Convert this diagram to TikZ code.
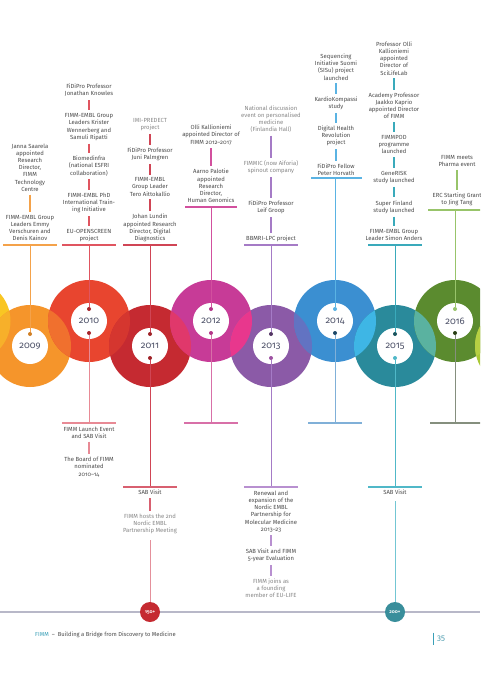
\documentclass[tikz,border=0pt]{standalone}
\usepackage{fontspec}
\setmainfont[Numbers=OldStyle]{Fira Sans}
\usetikzlibrary{calc}
\definecolor{c08}{HTML}{F9C623}
\definecolor{c09}{HTML}{F5952B}
\definecolor{c10}{HTML}{E8452F}
\definecolor{c11}{HTML}{C52A31}
\definecolor{c12}{HTML}{C73B97}
\definecolor{c13}{HTML}{8B5AA7}
\definecolor{c14}{HTML}{3B8FD1}
\definecolor{c15}{HTML}{2A8A9B}
\definecolor{c16}{HTML}{5B8B2F}
\definecolor{c17}{HTML}{A9C834}
\definecolor{x0809}{HTML}{F7B02A}
\definecolor{x0910}{HTML}{F0702E}
\definecolor{x1011}{HTML}{D5362F}
\definecolor{x1112}{HTML}{E0386B}
\definecolor{x1213}{HTML}{E8378D}
\definecolor{x1314}{HTML}{6273C2}
\definecolor{x1415}{HTML}{3EB6E5}
\definecolor{x1516}{HTML}{5AB2A0}
\definecolor{x1617}{HTML}{B6D043}
\definecolor{l09}{HTML}{F4A24A}
\definecolor{l10}{HTML}{E05560}
\definecolor{l10b}{HTML}{E88A95}
\definecolor{l11}{HTML}{D04555}
\definecolor{l11b}{HTML}{D86070}
\definecolor{l12}{HTML}{D2509E}
\definecolor{l12b}{HTML}{D870A8}
\definecolor{l13}{HTML}{A57BC6}
\definecolor{l13b}{HTML}{B890D0}
\definecolor{l14}{HTML}{5AB3E3}
\definecolor{l14b}{HTML}{80B0D8}
\definecolor{l15}{HTML}{3AAABB}
\definecolor{l15b}{HTML}{50B8C8}
\definecolor{l16}{HTML}{98C46A}
\definecolor{l16b}{HTML}{858F7E}
\definecolor{tgray}{HTML}{4C4C4C}
\definecolor{lgray}{HTML}{888888}
\definecolor{ygray}{HTML}{50546A}
\definecolor{fteal}{HTML}{3AA0B8}
\definecolor{tline}{HTML}{B8B8C8}
\tikzset{
  txt/.style={font=\fontsize{5.9}{7.2}\selectfont, text=tgray, align=center, inner sep=0pt},
  ltxt/.style={txt, text=lgray},
  seg/.style={line width=1.3pt, shorten <=3pt, shorten >=3pt},
  vline/.style={line width=0.8pt},
  bar/.style={line width=1.3pt},
  dot/.style={circle, inner sep=0pt, minimum size=4pt},
  yr/.style={font=\fontsize{9.5}{10}\selectfont, text=ygray, inner sep=0pt},
  badge/.style={circle, inner sep=0pt, minimum size=20pt, text=white, font=\fontsize{4.8}{5}\selectfont\bfseries},
}
\begin{document}
\begin{tikzpicture}[x=1pt,y=-1pt]
\path[use as bounding box] (0,0) rectangle (480,679);
\clip (0,0) rectangle (480,679);
\fill[white] (0,0) rectangle (480,679);
% circle centres
\foreach \n/\x/\y in {08/-30.5/321,09/30/346,10/89/321,11/150/346,12/211/321,13/271/346,14/335/321,15/395/346,16/455/321,17/516/346}
  {\coordinate (o\n) at (\x,\y);}
\foreach \n in {08,09,10,11,12,13,14,15,16,17} {\fill[c\n] (o\n) circle (41);}
\foreach \a/\b in {08/09,09/10,10/11,11/12,12/13,13/14,14/15,15/16,16/17}
  {\begin{scope}\clip (o\a) circle (41); \fill[x\a\b] (o\b) circle (41);\end{scope}}
\foreach \n in {09,10,11,12,13,14,15,16} {\fill[white] (o\n) circle (18);}
% year labels
\node[yr] (y09) at (o09) {2009};
\node[yr] (y10) at (o10) {2010};
\node[yr] (y11) at (o11) {2011};
\node[yr] (y12) at (o12) {2012};
\node[yr] (y13) at (o13) {2013};
\node[yr] (y14) at (o14) {2014};
\node[yr] (y15) at (o15) {2015};
\node[yr] (y16) at (o16) {2016};
% timeline and badges
\coordinate (tl0) at (0,612);
\coordinate (tl1) at (480,612);
\draw[tline, line width=1.2pt] (tl0) -- (tl1);
\node[badge, fill=c11] (n150) at (150,612) {150+};
\node[badge, fill=l15!80!black!95] (n200) at (395,612) {200+};

% ---------- 2009 ----------
\node[txt] (t09a) at (30,167.5) {Janna Saarela\\appointed\\Research\\Director,\\FIMM\\Technology\\Centre};
\node[txt] (t09b) at (30,228) {FIMM-EMBL Group\\Leaders Emmy\\Verschuren and\\Denis Kainov};
\draw[seg,l09] (t09a) -- (t09b);
\coordinate (b09) at (30,245);
\draw[bar,l09] ($(b09)+(-27,0)$) -- ($(b09)+(27,0)$);
\node[dot,fill=c09!85!black] (d09a) at (30,334) {};
\draw[vline,l09] (b09) -- (d09a);

% ---------- 2010 ----------
\node[txt] (t10a) at (89,90.5) {FiDiPro Professor\\Jonathan Knowles};
\node[txt] (t10b) at (89,127) {FIMM-EMBL Group\\Leaders Krister\\Wennerberg and\\Samuli Ripatti};
\node[txt] (t10c) at (89,166) {Biomedinfra\\(national ESFRI\\collaboration)};
\node[txt] (t10d) at (89,203) {FIMM-EMBL PhD\\International Train-\\ing Initiative};
\node[txt] (t10e) at (89,235.5) {EU-OPENSCREEN\\project};
\draw[seg,l10] (t10a) -- (t10b);
\draw[seg,l10] (t10b) -- (t10c);
\draw[seg,l10] (t10c) -- (t10d);
\draw[seg,l10] (t10d) -- (t10e);
\coordinate (b10) at (89,245);
\draw[bar,l10] ($(b10)+(-27,0)$) -- ($(b10)+(27,0)$);
\node[dot,fill=c11!85!black] (d10a) at (89,309) {};
\node[dot,fill=c11!85!black] (d10b) at (89,333) {};
\draw[vline,l10] (b10) -- (d10a);
\coordinate (c10) at (89,423);
\draw[vline,l10b] (d10b) -- (c10);
\draw[bar,l10b] ($(c10)+(-27,0)$) -- ($(c10)+(27,0)$);
\node[txt] (t10f) at (89,432.5) {FIMM Launch Event\\and SAB Visit};
\node[txt] (t10g) at (89,467) {The Board of FIMM\\nominated\\2010–14};
\draw[seg,l10b] (t10f) -- (t10g);

% ---------- 2011 ----------
\node[ltxt] (t11a) at (150,124.5) {IMI-PREDECT\\project};
\node[txt] (t11b) at (150,154.5) {FiDiPro Professor\\Juni Palmgren};
\node[txt] (t11c) at (150,187) {FIMM-EMBL\\Group Leader\\Tero Aittokallio};
\node[txt] (t11d) at (150,228) {Johan Lundin\\appointed Research\\Director, Digital\\Diagnostics};
\draw[seg,l11] (t11a) -- (t11b);
\draw[seg,l11] (t11b) -- (t11c);
\draw[seg,l11] (t11c) -- (t11d);
\coordinate (b11) at (150,245);
\draw[bar,l11] ($(b11)+(-27,0)$) -- ($(b11)+(27,0)$);
\node[dot,fill=c11!80!black] (d11a) at (150,334) {};
\node[dot,fill=c11!80!black] (d11b) at (150,358) {};
\draw[vline,l11] (b11) -- (d11a);
\coordinate (c11) at (150,487);
\draw[vline,l11] (d11b) -- (c11);
\draw[bar,l11b] ($(c11)+(-27,0)$) -- ($(c11)+(27,0)$);
\node[txt] (t11e) at (150,492.5) {SAB Visit};
\node[ltxt] (t11f) at (150,524) {FIMM hosts the 2nd\\Nordic EMBL\\Partnership Meeting};
\draw[seg,l11b] (t11e) -- (t11f);
\draw[vline,l11b!70, shorten <=6pt] (t11f) -- (n150);

% ---------- 2012 ----------
\node[txt] (t12a) at (211,135) {Olli Kallioniemi\\appointed Director of\\FIMM 2012–2017};
\node[txt] (t12b) at (211,186) {Aarno Palotie\\appointed\\Research\\Director,\\Human Genomics};
\draw[seg,l12] (t12a) -- (t12b);
\coordinate (b12) at (211,207);
\draw[bar,l12] ($(b12)+(-26,0)$) -- ($(b12)+(26,0)$);
\node[dot,fill=c12!90!black] (d12a) at (211,309) {};
\node[dot,fill=c12!90!black] (d12b) at (211,333) {};
\draw[vline,l12] (b12) -- (d12a);
\coordinate (c12) at (211,423);
\draw[vline,l12b] (d12b) -- (c12);
\draw[bar,l12b] ($(c12)+(-27,0)$) -- ($(c12)+(27,0)$);

% ---------- 2013 ----------
\node[ltxt] (t13a) at (271,119) {National discussion\\event on personalised\\medicine\\(Finlandia Hall)};
\node[ltxt] (t13b) at (271,167.5) {FIMMIC (now Aiforia)\\spinout company};
\node[txt] (t13c) at (271,207.5) {FiDiPro Professor\\Leif Groop};
\node[txt] (t13d) at (271,239) {BBMRI-LPC project};
\draw[seg,l13] (t13a) -- (t13b);
\draw[seg,l13] (t13b) -- (t13c);
\draw[seg,l13] (t13c) -- (t13d);
\coordinate (b13) at (271,245);
\draw[bar,l13] ($(b13)+(-27,0)$) -- ($(b13)+(27,0)$);
\node[dot,fill=c13!60!black] (d13a) at (271,334) {};
\node[dot,fill=c13!70!c12] (d13b) at (271,358) {};
\draw[vline,l13] (b13) -- (d13a);
\coordinate (c13) at (271,487);
\draw[vline,l13] (d13b) -- (c13);
\draw[bar,l13b] ($(c13)+(-27,0)$) -- ($(c13)+(27,0)$);
\node[txt] (t13e) at (271,511.5) {Renewal and\\expansion of the\\Nordic EMBL\\Partnership for\\Molecular Medicine\\2013–23};
\node[txt] (t13f) at (271,555.5) {SAB Visit and FIMM\\5-year Evaluation};
\node[ltxt] (t13g) at (271,588.5) {FIMM joins as\\a founding\\member of EU-LIFE};
\draw[seg,l13b] (t13e) -- (t13f);
\draw[seg,l13b] (t13f) -- (t13g);

% ---------- 2014 ----------
\node[txt] (t14a) at (336,67) {Sequencing\\Initiative Suomi\\(SISu) project\\launched};
\node[txt] (t14b) at (336,103.5) {KardioKompassi\\study};
\node[txt] (t14c) at (336,136) {Digital Health\\Revolution\\project};
\node[txt] (t14d) at (336,170) {FiDiPro Fellow\\Peter Horvath};
\draw[seg,l14] (t14a) -- (t14b);
\draw[seg,l14] (t14b) -- (t14c);
\draw[seg,l14] (t14c) -- (t14d);
\coordinate (b14) at (335,178);
\draw[bar,l14] ($(b14)+(-24,0)$) -- ($(b14)+(27,0)$);
\node[dot,fill=l14] (d14a) at (335,309) {};
\node[dot,fill=c14!50!black] (d14b) at (335,333) {};
\draw[vline,l14] (b14) -- (d14a);
\coordinate (c14) at (335,423);
\draw[vline,l14b] (d14b) -- (c14);
\draw[bar,l14b] ($(c14)+(-27,0)$) -- ($(c14)+(27,0)$);

% ---------- 2015 ----------
\node[txt] (t15a) at (394,58.5) {Professor Olli\\Kallioniemi\\appointed\\Director of\\SciLifeLab};
\node[txt] (t15b) at (394,106) {Academy Professor\\Jaakko Kaprio\\appointed Director\\of FIMM};
\node[txt] (t15c) at (394,144.5) {FIMMPOD\\programme\\launched};
\node[txt] (t15d) at (394,177.5) {GeneRISK\\study launched};
\node[txt] (t15e) at (394,207) {Super Finland\\study launched};
\node[txt] (t15f) at (394,235) {FIMM-EMBL Group\\Leader Simon Anders};
\draw[seg,l15] (t15a) -- (t15b);
\draw[seg,l15] (t15b) -- (t15c);
\draw[seg,l15] (t15c) -- (t15d);
\draw[seg,l15] (t15d) -- (t15e);
\draw[seg,l15] (t15e) -- (t15f);
\coordinate (b15) at (395,245);
\draw[bar,l15] ($(b15)+(-27,0)$) -- ($(b15)+(27,0)$);
\node[dot,fill=c15!60!black] (d15a) at (395,334) {};
\node[dot,fill=l15b] (d15b) at (395,358) {};
\draw[vline,l15] (b15) -- (d15a);
\coordinate (c15) at (395,487);
\draw[vline,l15b] (d15b) -- (c15);
\draw[bar,l15b] ($(c15)+(-27,0)$) -- ($(c15)+(27,0)$);
\node[txt] (t15g) at (395,492.5) {SAB Visit};
\draw[vline,l15b!80, shorten <=6pt] (t15g) -- (n200);

% ---------- 2016 ----------
\node[txt] (t16a) at (457,161) {FIMM meets\\Pharma event};
\node[txt] (t16b) at (457,199.5) {ERC Starting Grant\\to Jing Tang};
\draw[seg,l16] (t16a) -- (t16b);
\coordinate (b16) at (455,210);
\draw[bar,l16] ($(b16)+(-27,0)$) -- ($(b16)+(30,0)$);
\node[dot,fill=l16] (d16a) at (455,309) {};
\node[dot,fill=c16!45!black] (d16b) at (455,333) {};
\draw[vline,l16] (b16) -- (d16a);
\coordinate (c16) at (455,423);
\draw[vline,l16b] (d16b) -- (c16);
\draw[bar,l16b] ($(c16)+(-25,0)$) -- ($(c16)+(30,0)$);

% ---------- footer ----------
\node[anchor=west, inner sep=0pt, font=\fontsize{5.8}{6}\selectfont, text=tgray] (foot) at (35,635)
  {\textcolor{fteal}{FIMM}\ \ –\ \ Building a Bridge from Discovery to Medicine};
\node[anchor=west, inner sep=0pt, font=\fontsize{8}{9}\selectfont, text=fteal!80!gray] (pg) at (437,639) {35};
\draw[fteal, line width=0.9pt] ($(pg.west)+(-4,-6.5)$) -- ($(pg.west)+(-4,6)$);
\end{tikzpicture}
\end{document}
